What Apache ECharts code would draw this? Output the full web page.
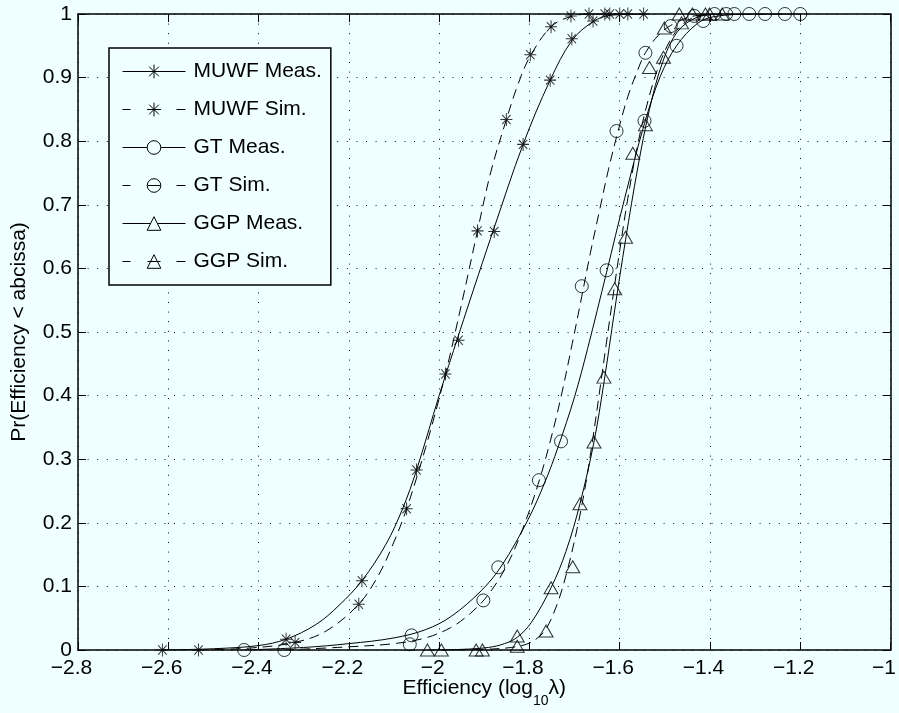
<!DOCTYPE html>
<html>
<head>
<meta charset="utf-8">
<title>Efficiency CDF</title>
<script src="https://cdn.jsdelivr.net/npm/echarts@6/dist/echarts.min.js"></script>
<style>
  html, body { margin: 0; padding: 0; background: #f0ffff; }
  #chart { width: 899px; height: 713px; }
</style>
</head>
<body>
<div id="chart"></div>
<script>
// Axis ticks
const xTicks = [-2.8, -2.6, -2.4, -2.2, -2.0, -1.8, -1.6, -1.4, -1.2, -1.0];
const yTicks = [0, 0.1, 0.2, 0.3, 0.4, 0.5, 0.6, 0.7, 0.8, 0.9, 1];

// Series names
const seriesNames = ['MUWF Meas.', 'MUWF Sim.', 'GT Meas.', 'GT Sim.', 'GGP Meas.', 'GGP Sim.'];

// Empirical points [efficiency, probability]
const muwfMeasPts = [[-2.613, 0], [-2.339, 0.017], [-2.171, 0.109], [-2.050, 0.283], [-1.957, 0.487], [-1.878, 0.658], [-1.814, 0.795], [-1.754, 0.896], [-1.706, 0.961], [-1.659, 0.989], [-1.622, 1], [-1.582, 1], [-1.547, 1]];
const muwfSimPts = [[-2.533, 0], [-2.319, 0.012], [-2.178, 0.072], [-2.072, 0.222], [-1.986, 0.434], [-1.915, 0.659], [-1.851, 0.834], [-1.798, 0.936], [-1.752, 0.980], [-1.708, 0.997], [-1.668, 1], [-1.633, 1], [-1.600, 1]];
const gtMeasPts = [[-2.432, 0], [-2.061, 0.023], [-1.869, 0.130], [-1.730, 0.328], [-1.629, 0.597], [-1.545, 0.832], [-1.474, 0.950], [-1.415, 0.989], [-1.390, 1], [-1.346, 1], [-1.278, 1], [-1.200, 1]];
const gtSimPts = [[-2.343, 0], [-2.065, 0.009], [-1.902, 0.078], [-1.779, 0.267], [-1.684, 0.572], [-1.607, 0.816], [-1.543, 0.939], [-1.487, 0.981], [-1.435, 0.997], [-1.364, 1], [-1.313, 1], [-1.234, 1]];
const ggpMeasPts = [[-2.026, 0], [-1.918, 0], [-1.827, 0.022], [-1.752, 0.098], [-1.688, 0.230], [-1.657, 0.327], [-1.611, 0.568], [-1.571, 0.781], [-1.534, 0.916], [-1.501, 0.978], [-1.468, 1], [-1.410, 1], [-1.373, 1]];
const ggpSimPts = [[-1.995, 0], [-1.904, 0], [-1.827, 0.006], [-1.763, 0.030], [-1.704, 0.131], [-1.635, 0.429], [-1.587, 0.649], [-1.543, 0.826], [-1.503, 0.932], [-1.463, 0.986], [-1.439, 1], [-1.401, 1]];

// Fitted distribution curves [efficiency, probability]
const muwfMeasFit = [[-2.613, 0], [-2.50, 0.002], [-2.40, 0.007], [-2.339, 0.017], [-2.273, 0.040], [-2.222, 0.070], [-2.171, 0.109], [-2.118, 0.166], [-2.081, 0.222], [-2.050, 0.283], [-2.000, 0.400], [-1.957, 0.495], [-1.913, 0.590], [-1.878, 0.664], [-1.814, 0.795], [-1.754, 0.896], [-1.706, 0.958], [-1.659, 0.988], [-1.620, 0.998], [-1.547, 1]];
const muwfSimFit = [[-2.533, 0], [-2.42, 0.003], [-2.319, 0.012], [-2.25, 0.030], [-2.178, 0.072], [-2.134, 0.118], [-2.10, 0.170], [-2.072, 0.222], [-2.03, 0.318], [-1.986, 0.434], [-1.95, 0.545], [-1.915, 0.659], [-1.885, 0.753], [-1.851, 0.834], [-1.825, 0.890], [-1.798, 0.934], [-1.752, 0.980], [-1.708, 0.996], [-1.66, 1], [-1.60, 1]];
const gtMeasFit = [[-2.432, 0], [-2.30, 0.004], [-2.20, 0.010], [-2.10, 0.019], [-2.03, 0.032], [-1.973, 0.053], [-1.907, 0.093], [-1.862, 0.132], [-1.803, 0.205], [-1.765, 0.265], [-1.737, 0.318], [-1.700, 0.398], [-1.671, 0.474], [-1.629, 0.594], [-1.589, 0.710], [-1.545, 0.828], [-1.510, 0.902], [-1.474, 0.950], [-1.428, 0.985], [-1.390, 0.996], [-1.30, 1], [-1.198, 1]];
const gtSimFit = [[-2.343, 0], [-2.20, 0.005], [-2.10, 0.010], [-2.03, 0.019], [-1.975, 0.035], [-1.930, 0.058], [-1.890, 0.088], [-1.850, 0.133], [-1.815, 0.190], [-1.781, 0.260], [-1.755, 0.325], [-1.730, 0.398], [-1.705, 0.482], [-1.684, 0.556], [-1.665, 0.624], [-1.645, 0.690], [-1.625, 0.755], [-1.605, 0.812], [-1.582, 0.870], [-1.560, 0.912], [-1.543, 0.939], [-1.515, 0.966], [-1.487, 0.982], [-1.435, 0.997], [-1.36, 1], [-1.234, 1]];
const ggpMeasFit = [[-2.026, 0], [-1.95, 0.001], [-1.891, 0.004], [-1.855, 0.010], [-1.827, 0.020], [-1.796, 0.043], [-1.752, 0.098], [-1.719, 0.155], [-1.688, 0.230], [-1.657, 0.327], [-1.635, 0.420], [-1.611, 0.535], [-1.587, 0.645], [-1.560, 0.758], [-1.534, 0.850], [-1.505, 0.924], [-1.472, 0.972], [-1.428, 0.995], [-1.373, 1]];
const ggpSimFit = [[-1.995, 0], [-1.90, 0.001], [-1.84, 0.004], [-1.803, 0.010], [-1.78, 0.020], [-1.763, 0.033], [-1.737, 0.075], [-1.715, 0.128], [-1.693, 0.195], [-1.675, 0.262], [-1.660, 0.330], [-1.645, 0.404], [-1.630, 0.480], [-1.615, 0.555], [-1.600, 0.628], [-1.582, 0.710], [-1.560, 0.795], [-1.534, 0.872], [-1.507, 0.930], [-1.476, 0.972], [-1.439, 0.994], [-1.401, 1]];

const FONT = '"Liberation Sans", Arial, Helvetica, sans-serif';
const BG = '#f0ffff';
const INK = '#000';

// Marker shapes
const STAR = 'path://M0,-10L0,10M-10,0L10,0M-7.07,-7.07L7.07,7.07M-7.07,7.07L7.07,-7.07';
const markers = {
  star: { symbol: STAR, size: [12, 13], gap: 12 },
  circle: { symbol: 'circle', size: 13, gap: 13.6 },
  triangle: { symbol: 'triangle', size: [14, 12], gap: 6.8 }
};

const LEGEND_W = 63;
const SIM_DASH = [8, 17, 13, 16, 9];

const groups = [
  { name: seriesNames[0], fit: muwfMeasFit, pts: muwfMeasPts, marker: markers.star, dashed: false },
  { name: seriesNames[1], fit: muwfSimFit, pts: muwfSimPts, marker: markers.star, dashed: true },
  { name: seriesNames[2], fit: gtMeasFit, pts: gtMeasPts, marker: markers.circle, dashed: false },
  { name: seriesNames[3], fit: gtSimFit, pts: gtSimPts, marker: markers.circle, dashed: true },
  { name: seriesNames[4], fit: ggpMeasFit, pts: ggpMeasPts, marker: markers.triangle, dashed: false },
  { name: seriesNames[5], fit: ggpSimFit, pts: ggpSimPts, marker: markers.triangle, dashed: true }
];

const markerStyle = { color: 'none', borderColor: INK, borderWidth: 1 };

const lineSeries = groups.map(g => ({
  name: g.name,
  type: 'line',
  data: g.fit,
  smooth: 0.35,
  showSymbol: false,
  symbol: g.marker.symbol,
  symbolSize: g.marker.size,
  itemStyle: markerStyle,
  lineStyle: { color: INK, width: 1, type: g.dashed ? [10, 6] : 'solid' },
  emphasis: { disabled: true },
  silent: true,
  z: 3
}));

const pointSeries = groups.map(g => ({
  name: g.name,
  type: 'scatter',
  data: g.pts,
  symbol: g.marker.symbol,
  symbolSize: g.marker.size,
  itemStyle: markerStyle,
  emphasis: { disabled: true },
  silent: true,
  z: 4
}));

// Legend rows: the line sample stops short of the marker for solid rows
const legendData = groups.map(g => {
  const side = (LEGEND_W - g.marker.gap) / 2;
  return {
    name: g.name,
    lineStyle: { type: g.dashed ? SIM_DASH : [side, g.marker.gap, side] }
  };
});

const fmtX = v => {
  const r = Math.round(v * 10) / 10;
  return (r < 0 ? '\u2212' : '') + Math.abs(r);
};
const fmtY = v => String(Math.round(v * 10) / 10);

const xStep = Math.round((xTicks[1] - xTicks[0]) * 10) / 10;
const yStep = Math.round((yTicks[1] - yTicks[0]) * 10) / 10;

const tick = { show: true, inside: true, length: 8, lineStyle: { color: INK, width: 1 } };
const frame = { show: true, onZero: false, lineStyle: { color: INK, width: 1.5 } };
const grid = { show: true, lineStyle: { color: '#111', width: 1, type: [1, 8.6] } };

const chart = echarts.init(document.getElementById('chart'), null, { renderer: 'canvas' });
chart.setOption({
  backgroundColor: BG,
  animation: false,
  textStyle: { fontFamily: FONT, color: INK },
  grid: { left: 78, right: 5, top: 14, bottom: 56, containLabel: false },
  legend: {
    data: legendData,
    orient: 'vertical',
    left: 109,
    top: 48,
    padding: [13, 9, 13, 13],
    itemGap: 17,
    itemWidth: LEGEND_W,
    itemHeight: 17,
    itemStyle: { borderWidth: 1 },
    lineStyle: { width: 1 },
    textStyle: { fontFamily: FONT, fontSize: 21, color: INK, lineHeight: 21, padding: [0, 0, 0, 3] },
    backgroundColor: BG,
    borderColor: INK,
    borderWidth: 1.5,
    selectedMode: false,
    z: 10
  },
  xAxis: [
    {
      type: 'value',
      min: xTicks[0],
      max: xTicks[xTicks.length - 1],
      interval: xStep,
      position: 'bottom',
      axisLine: frame,
      axisTick: tick,
      splitLine: grid,
      axisLabel: {
        formatter: fmtX, fontSize: 21, color: INK, fontFamily: FONT,
        margin: 8, padding: [0, 13, 0, 0], showMinLabel: true, showMaxLabel: true
      },
      name: '{t|Efficiency (log}{s|10}{t|\u03bb)}',
      nameLocation: 'middle',
      nameGap: 18,
      nameMoveOverlap: false,
      nameTextStyle: {
        rich: {
          t: { fontSize: 21, fontFamily: FONT, color: INK, lineHeight: 40 },
          s: { fontSize: 14, fontFamily: FONT, color: INK, lineHeight: 16, verticalAlign: 'bottom' }
        }
      }
    },
    {
      type: 'value',
      min: xTicks[0],
      max: xTicks[xTicks.length - 1],
      interval: xStep,
      position: 'top',
      axisLine: frame,
      axisTick: tick,
      splitLine: { show: false },
      axisLabel: { show: false }
    }
  ],
  yAxis: [
    {
      type: 'value',
      min: yTicks[0],
      max: yTicks[yTicks.length - 1],
      interval: yStep,
      position: 'left',
      axisLine: frame,
      axisTick: tick,
      splitLine: grid,
      axisLabel: { formatter: fmtY, fontSize: 21, color: INK, fontFamily: FONT, margin: 6 },
      name: 'Pr(Efficiency < abcissa)',
      nameLocation: 'middle',
      nameGap: 48,
      nameMoveOverlap: false,
      nameTextStyle: { fontSize: 21, fontFamily: FONT, color: INK }
    },
    {
      type: 'value',
      min: yTicks[0],
      max: yTicks[yTicks.length - 1],
      interval: yStep,
      position: 'right',
      axisLine: frame,
      axisTick: tick,
      splitLine: { show: false },
      axisLabel: { show: false }
    }
  ],
  series: lineSeries.concat(pointSeries)
});
</script>
</body>
</html>
